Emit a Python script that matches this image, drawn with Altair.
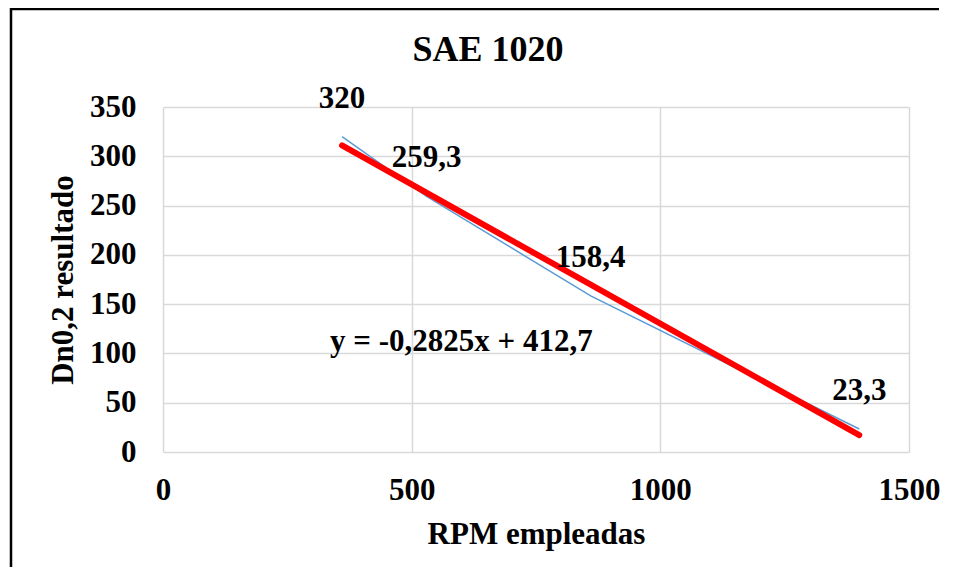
import altair as alt
import pandas as pd

# Data
rpm = [360, 530, 860, 1400]
dn = [320, 259.3, 158.4, 23.3]
labels = ["320", "259,3", "158,4", "23,3"]

eq_text = ["y = -0,2825x + 412,7"]
eq_x = [600]
eq_y = [112]

x_ticks = [0, 500, 1000, 1500]
y_ticks = [0, 50, 100, 150, 200, 250, 300, 350]

df = pd.DataFrame({"rpm": rpm, "dn": dn, "label": labels})
eq_df = pd.DataFrame({"x": eq_x, "y": eq_y, "t": eq_text})

FONT = "Liberation Serif"
W, H = 746, 345

xscale = alt.Scale(domain=[0, 1500], nice=False, zero=False)
yscale = alt.Scale(domain=[0, 350], nice=False)

xaxis = alt.Axis(values=x_ticks, format="d", title="RPM empleadas", labelFontSize=31, labelFont=FONT,
                 labelFontWeight="bold", labelColor="black", labelPadding=23, ticks=False,
                 domain=False, grid=True, gridColor="#d9d9d9", gridWidth=1.5,
                 titleFontSize=31, titleFont=FONT, titleFontWeight="bold", titleColor="black",
                 titleY=82, titleBaseline="middle", labelFlush=False)
yaxis = alt.Axis(values=y_ticks, format="d", title="Dn0,2 resultado", labelFontSize=31, labelFont=FONT,
                 labelFontWeight="bold", labelColor="black", labelPadding=27, ticks=False,
                 domain=False, grid=True, gridColor="#d9d9d9", gridWidth=1.5,
                 titleFontSize=31, titleFont=FONT, titleFontWeight="bold", titleColor="black",
                 titleX=-100, titleY=H / 2, titleBaseline="middle", titleAngle=270,
                 labelFlush=False)

base = alt.Chart(df)

one = base.transform_filter(alt.datum.rpm == 360)
top_border = one.mark_rule(color="black", strokeWidth=2.5).encode(
    x=alt.value(-152), x2=alt.value(W + 30), y=alt.value(-98)
)
left_border = one.mark_rule(color="black", strokeWidth=2.5).encode(
    x=alt.value(-152), y=alt.value(-99), y2=alt.value(H + 115)
)

line = base.mark_line(color="#5B9BD5", strokeWidth=1.5).encode(
    x=alt.X("rpm:Q", scale=xscale, axis=xaxis),
    y=alt.Y("dn:Q", scale=yscale, axis=yaxis),
)

trend = base.transform_regression("rpm", "dn").mark_line(
    color="#FF0000", strokeWidth=6, strokeCap="round"
).encode(x=alt.X("rpm:Q", scale=xscale), y=alt.Y("dn:Q", scale=yscale))

text = base.mark_text(font=FONT, fontSize=31, fontWeight="bold", color="black",
                      baseline="middle", dy=-38).encode(
    x=alt.X("rpm:Q", scale=xscale), y=alt.Y("dn:Q", scale=yscale), text="label:N"
)

eq = alt.Chart(eq_df).mark_text(font=FONT, fontSize=31, fontWeight="bold", color="black",
                                baseline="middle").encode(
    x=alt.X("x:Q", scale=xscale), y=alt.Y("y:Q", scale=yscale), text="t:N"
)

chart = alt.layer(top_border, left_border, line, trend, text, eq).properties(
    width=W, height=H,
    title=alt.TitleParams("SAE 1020", font=FONT, fontSize=36, fontWeight="bold",
                          color="black", dx=-48, offset=-62),
    autosize=alt.AutoSizeParams(type="none"),
    padding={"left": 155, "top": 99, "right": 41, "bottom": 120},
).configure_view(stroke=None)

chart.save("out.html", embed_options={"renderer": "svg", "actions": False})
